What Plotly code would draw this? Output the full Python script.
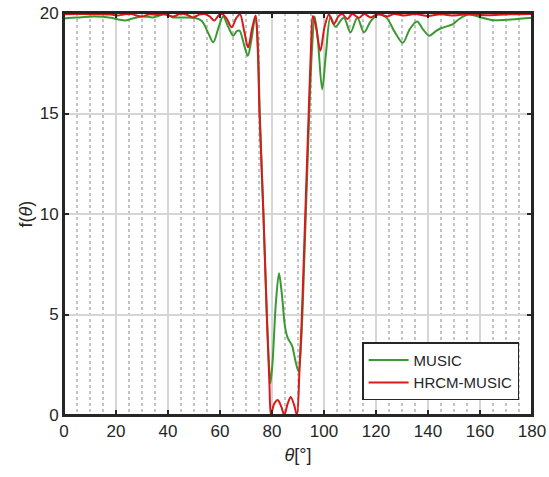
import plotly.graph_objects as go

# MUSIC spectrum (green)
theta_music = [0, 3, 6, 11, 15, 18, 21, 23.5, 26, 29.7, 32, 34.2, 38, 40, 42, 45, 50, 53,
               55.5, 57.4, 59.5, 61.2, 63.2, 65.1, 66.5, 67.5, 69.5, 70.7, 72, 73.6, 74.5,
               75.3, 76.7, 78, 78.9, 79.4, 80.2, 81.5, 82.7, 83.8, 85, 86, 87.7, 89, 90.2,
               91.2, 92.5, 94, 95.3, 96.4, 97.6, 99.3, 100.7, 102.5, 104.4, 107.6, 110.2,
               112.8, 115.4, 118, 121, 124, 127, 130.3, 133, 135.8, 138, 140.5, 143, 145,
               149.6, 152, 155.5, 158, 161, 165, 170, 175, 180]
f_music = [19.72, 19.76, 19.78, 19.83, 19.81, 19.76, 19.68, 19.63, 19.71, 19.83, 19.81, 19.78,
           19.92, 19.9, 19.78, 19.78, 19.76, 19.6, 19.0, 18.54, 19.3, 19.82, 19.3, 18.87,
           19.1, 19.12, 18.3, 17.87, 18.6, 19.82, 18.6, 15.0, 10.0, 5.0, 2.4, 1.58, 2.6,
           5.6, 7.05, 6.0, 4.4, 3.85, 3.45, 2.7, 2.16, 3.6, 8.0, 13.8, 18.0, 19.82, 18.7,
           16.2, 17.9, 19.8, 19.32, 19.76, 19.04, 19.76, 19.04, 19.6, 19.92, 19.78, 19.1,
           18.52, 19.2, 19.58, 19.2, 18.87, 19.1, 19.24, 19.45, 19.7, 19.92, 19.88, 19.76,
           19.64, 19.66, 19.71, 19.76]

# HRCM-MUSIC spectrum (red)
theta_hrcm = [0, 5, 10, 15, 18, 20.6, 23, 25.8, 29.7, 33, 36, 38.5, 41.9, 44.5, 47, 49.6,
              52, 54.2, 56, 57.8, 59.5, 60.8, 62.5, 64.5, 66.2, 67.7, 69.3, 70.8, 72.3,
              73.7, 74.5, 75.2, 76.7, 78, 79, 79.6, 80.8, 82.2, 83.6, 84.7, 86, 87.2, 88.5,
              89.6, 90.5, 91.5, 92.8, 94.1, 95, 95.7, 96.8, 98.6, 100.2, 101.9, 103.8,
              105.5, 107, 109, 110.9, 113.5, 115.4, 118, 120.6, 124.4, 127, 130.9, 135,
              140, 145, 150, 155, 158, 163, 170, 175, 180]
f_hrcm = [19.94, 19.95, 19.94, 19.94, 19.92, 19.88, 19.93, 19.95, 19.82, 19.94, 19.9, 19.95,
          19.82, 19.95, 19.93, 19.78, 19.92, 19.95, 19.83, 19.63, 19.88, 19.95, 19.73, 19.29,
          19.73, 19.94, 19.1, 18.29, 19.2, 19.88, 18.3, 15.0, 10.0, 5.0, 1.6, 0.0, 0.55,
          0.75, 0.4, 0.0, 0.55, 0.9, 0.5, 0.0, 2.0, 5.0, 10.0, 15.0, 18.3, 19.85, 19.4,
          18.12, 19.3, 19.92, 19.45, 19.83, 19.95, 19.7, 19.95, 19.76, 19.95, 19.78, 19.95,
          19.83, 19.95, 19.87, 19.95, 19.85, 19.94, 19.87, 19.94, 19.92, 19.89, 19.93, 19.94,
          19.95]

x_ticks = list(range(0, 181, 20))
y_ticks = [0, 5, 10, 15, 20]

GREEN = "#3a9a32"
RED = "#d91a1c"
AXC = "#262626"
FONT = "Liberation Sans, Arial, sans-serif"

fig = go.Figure()
fig.add_trace(go.Scatter(x=theta_music, y=f_music, mode="lines", name="MUSIC",
                         line=dict(color=GREEN, width=2, shape="spline", smoothing=0.9)))
fig.add_trace(go.Scatter(x=theta_hrcm, y=f_hrcm, mode="lines", name="HRCM-MUSIC",
                         line=dict(color=RED, width=2, shape="spline", smoothing=0.9)))

axis_common = dict(
    showline=True, linecolor=AXC, linewidth=2, mirror="ticks",
    ticks="inside", ticklen=5, tickwidth=1.5, tickcolor=AXC,
    showgrid=True, gridcolor="#d6d6d6", gridwidth=1.5,
    zeroline=False, automargin=False,
    tickfont=dict(family=FONT, size=17, color=AXC),
)

fig.update_xaxes(range=[0, 180], tickvals=x_ticks, **axis_common,
                 minor=dict(dtick=5, tick0=0, showgrid=True, gridcolor="#c4c4c4",
                            griddash="dot", gridwidth=1.5, ticks=""),
                 title=dict(text="<i>θ</i>[°]", font=dict(family=FONT, size=18, color=AXC),
                            standoff=8))
fig.update_yaxes(range=[0, 20], tickvals=y_ticks, **axis_common,
                 title=dict(text="f(<i>θ</i>)", font=dict(family=FONT, size=18, color=AXC),
                            standoff=2))

# axes box (MATLAB "box on")
fig.add_shape(type="rect", xref="x domain", yref="y domain", x0=0, x1=1, y0=0, y1=1,
              line=dict(color=AXC, width=2), layer="above")

fig.update_layout(
    width=549, height=477,
    margin=dict(l=64, r=17, t=13, b=62),
    plot_bgcolor="white", paper_bgcolor="white",
    showlegend=True,
    legend=dict(x=0.637, y=0.037, xanchor="left", yanchor="bottom",
                bgcolor="white", bordercolor=AXC, borderwidth=1.5,
                font=dict(family=FONT, size=15, color=AXC),
                tracegroupgap=0, itemwidth=40),
)

fig.write_html("out.html", config={"displayModeBar": False},
               post_script="document.body.style.margin='0';document.body.style.overflow='hidden';")
